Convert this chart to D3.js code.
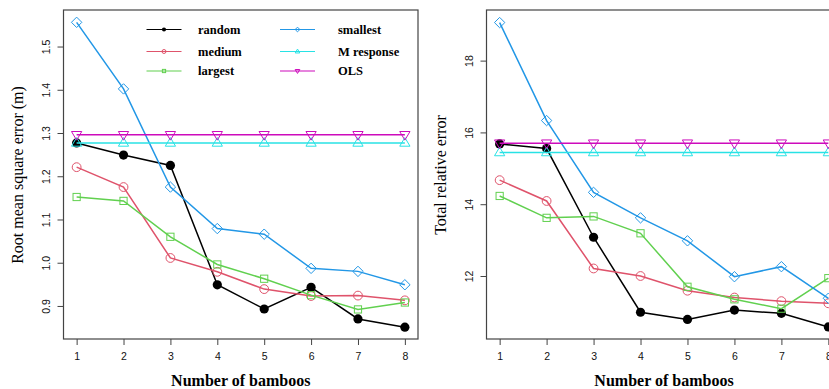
<!DOCTYPE html>
<html>
<head>
<meta charset="utf-8">
<script src="https://cdn.jsdelivr.net/npm/d3@7"></script>
<style>
  body { margin: 0; background: #fff; }
  svg { display: block; }
</style>
</head>
<body>
<div id="chart"></div>
<script>
// number of bamboos on x
const bamboos = [1, 2, 3, 4, 5, 6, 7, 8];

// left panel: root mean square error (m)
const rmseRandom   = [1.277, 1.249, 1.225, 0.949, 0.893, 0.943, 0.870, 0.851];
const rmseMedium   = [1.221, 1.175, 1.011, 0.979, 0.939, 0.923, 0.924, 0.913];
const rmseLargest  = [1.152, 1.143, 1.060, 0.996, 0.963, 0.925, 0.892, 0.908];
const rmseSmallest = [1.556, 1.402, 1.175, 1.079, 1.066, 0.987, 0.980, 0.949];
const rmseMResp    = [1.277, 1.277, 1.277, 1.277, 1.277, 1.277, 1.277, 1.277];
const rmseOLS      = [1.296, 1.296, 1.296, 1.296, 1.296, 1.296, 1.296, 1.296];
const rmseTicks = [0.9, 1.0, 1.1, 1.2, 1.3, 1.4, 1.5];

// right panel: total relative error
const treRandom   = [15.68, 15.55, 13.08, 10.99, 10.79, 11.05, 10.96, 10.58];
const treMedium   = [14.67, 14.09, 12.21, 12.00, 11.59, 11.40, 11.30, 11.24];
const treLargest  = [14.23, 13.62, 13.66, 13.19, 11.70, 11.35, 11.09, 11.94];
const treSmallest = [19.06, 16.33, 14.33, 13.62, 12.98, 11.98, 12.26, 11.38];
const treMResp    = [15.44, 15.44, 15.44, 15.44, 15.44, 15.44, 15.44, 15.44];
const treOLS      = [15.70, 15.70, 15.70, 15.70, 15.70, 15.70, 15.70, 15.70];
const treTicks = [12, 14, 16, 18];

const seriesNames = ["random", "medium", "largest", "smallest", "M response", "OLS"];
const colors = {
    "random": "#000000", "medium": "#DF536B", "largest": "#61D04F",
    "smallest": "#2297E6", "M response": "#28E2E5", "OLS": "#CD0BBC"
};
const shapes = {
    "random": "dot", "medium": "circle", "largest": "square",
    "smallest": "diamond", "M response": "up", "OLS": "down"
};

let svg = d3.select("#chart").append("svg")
    .attr("width", 829)
    .attr("height", 389);

function marker(sel, shape, color, s) {
    // s = scale, 1 for plot points
    if (shape == "dot") {
        sel.append("circle").attr("r", 4.6 * s).attr("fill", color);
    } else if (shape == "circle") {
        sel.append("circle").attr("r", 4.4 * s).attr("fill", "none")
            .attr("stroke", color).attr("stroke-width", 1);
    } else if (shape == "square") {
        sel.append("rect").attr("x", -3.6 * s).attr("y", -3.6 * s)
            .attr("width", 7.2 * s).attr("height", 7.2 * s)
            .attr("fill", "none").attr("stroke", color).attr("stroke-width", 1);
    } else if (shape == "diamond") {
        let r = 5.2 * s;
        sel.append("path").attr("d", `M0,${-r}L${r},0L0,${r}L${-r},0Z`)
            .attr("fill", "none").attr("stroke", color).attr("stroke-width", 1);
    } else {
        let r = 5.4 * s;
        let d = shape == "up"
            ? `M0,${-r}L${r * 0.95},${r * 0.6}L${-r * 0.95},${r * 0.6}Z`
            : `M0,${r}L${r * 0.95},${-r * 0.6}L${-r * 0.95},${-r * 0.6}Z`;
        sel.append("path").attr("d", d)
            .attr("fill", "none").attr("stroke", color).attr("stroke-width", 1);
    }
}

function drawPanel(opts) {
    let g = svg.append("g");
    let x = d3.scaleLinear().domain([0.72, 8.28]).range([opts.left, opts.right]);
    let y = d3.scaleLinear().domain(opts.yDomain).range([339, 10]);

    // axes
    let xAxis = g.append("g")
        .attr("transform", "translate(0,339)")
        .call(d3.axisBottom(x).tickValues(bamboos).tickFormat(d3.format("d")).tickSize(6).tickPadding(8));
    let yAxis = g.append("g")
        .attr("transform", "translate(" + opts.left + ",0)")
        .call(d3.axisLeft(y).tickValues(opts.ticks).tickFormat(opts.fmt).tickSize(6).tickPadding(0));
    xAxis.select(".domain").remove();
    yAxis.select(".domain").remove();
    g.selectAll(".tick line").attr("stroke", "#444");
    g.selectAll(".tick text")
        .attr("fill", "#111")
        .style("font-family", "'Liberation Sans', Arial, sans-serif")
        .style("font-size", "10.5px");
    yAxis.selectAll(".tick text")
        .attr("text-anchor", "middle")
        .attr("x", 0).attr("dy", 0)
        .attr("transform", "translate(-14,0) rotate(-90)");

    // box
    g.append("rect")
        .attr("x", opts.left).attr("y", 10)
        .attr("width", opts.right - opts.left).attr("height", 329)
        .attr("fill", "none").attr("stroke", "#444").attr("stroke-width", 1.2);

    // titles
    g.append("text")
        .attr("transform", "translate(" + opts.ylabX + ",175) rotate(-90)")
        .attr("text-anchor", "middle")
        .style("font-family", "'Liberation Serif', 'Times New Roman', serif")
        .style("font-size", "16px")
        .text(opts.ylab);
    g.append("text")
        .attr("x", x(4.5)).attr("y", 386)
        .attr("text-anchor", "middle")
        .style("font-family", "'Liberation Serif', 'Times New Roman', serif")
        .style("font-size", "16px").style("font-weight", "bold")
        .text("Number of bamboos");

    let line = d3.line()
        .x((d, i) => x(bamboos[i]))
        .y(d => y(d));

    seriesNames.forEach((name, k) => {
        let vals = opts.series[k];
        let c = colors[name];
        g.append("path")
            .attr("d", line(vals))
            .attr("fill", "none")
            .attr("stroke", c)
            .attr("stroke-width", 1.5);
        vals.forEach((v, i) => {
            let p = g.append("g").attr("transform", "translate(" + x(bamboos[i]) + "," + y(v) + ")");
            marker(p, shapes[name], c, 1);
        });
    });
    return g;
}

drawPanel({
    left: 63.5, right: 418, yDomain: [0.8236, 1.5845],
    ticks: rmseTicks, fmt: d3.format(".1f"),
    ylab: "Root mean square error (m)", ylabX: 23,
    series: [rmseRandom, rmseMedium, rmseLargest, rmseSmallest, rmseMResp, rmseOLS]
});

drawPanel({
    left: 486.5, right: 841.5, yDomain: [10.245, 19.41],
    ticks: treTicks, fmt: d3.format("d"),
    ylab: "Total relative error", ylabX: 446,
    series: [treRandom, treMedium, treLargest, treSmallest, treMResp, treOLS]
});

// legend (left panel, no border)
let legend = svg.append("g");
seriesNames.forEach((name, k) => {
    let col = Math.floor(k / 3), row = k % 3;
    let lx = col == 0 ? 146.5 : 280;
    let ly = [29.5, 51.5, 71][row];
    let c = colors[name];
    legend.append("line")
        .attr("x1", lx).attr("x2", lx + 35).attr("y1", ly).attr("y2", ly)
        .attr("stroke", c).attr("stroke-width", 1.2);
    let p = legend.append("g").attr("transform", "translate(" + (lx + 17.5) + "," + ly + ")");
    marker(p, shapes[name], c, 0.45);
    legend.append("text")
        .attr("x", col == 0 ? 198 : 338).attr("y", ly + 4)
        .style("font-family", "'Liberation Serif', 'Times New Roman', serif")
        .style("font-size", "12.5px").style("font-weight", "bold")
        .text(name);
});
</script>
</body>
</html>
